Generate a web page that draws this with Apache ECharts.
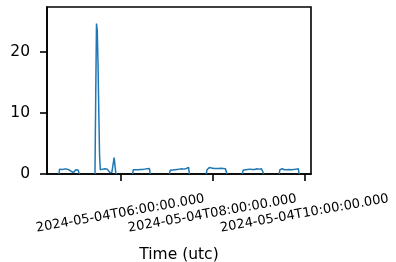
<!DOCTYPE html>
<html>
<head>
<meta charset="utf-8">
<script src="https://cdn.jsdelivr.net/npm/echarts@6/dist/echarts.min.js"></script>
<style>
  html, body { margin: 0; padding: 0; background: #fff; }
  #chart_block { width: 396px; height: 262px; }
</style>
</head>
<body>
<div id="chart_block"></div>
<script>
// segments of 1-minute samples, starting times in UTC (hour, minute)
var seg_starts = [[4, 40], [5, 27], [6, 16], [7, 4], [7, 52], [8, 39], [9, 27]];
var seg_values = [
    [0, 0.8, 0.85, 0.8, 0.75, 0.8, 0.85, 0.8, 0.75, 0.8, 0.8, 0.75, 0.8, 0.7, 0.75, 0.6, 0.45, 0.3, 0.3, 0.25, 0.3, 0.55, 0.7, 0.75, 0.7, 0.65, 0.3, 0],
    [0, 13, 24.7, 23.5, 18, 10, 3, 0.7, 0.8, 0.85, 0.8, 0.75, 0.8, 0.85, 0.8, 0.75, 0.8, 0.7, 0.75, 0.3, 0.05, 0.2, 0.25, 0.2, 0.3, 2.7, 1.5, 0.3, 0],
    [0, 0.7, 0.75, 0.7, 0.7, 0.75, 0.7, 0.7, 0.75, 0.7, 0.75, 0.7, 0.7, 0.75, 0.8, 0.75, 0.8, 0.85, 0.8, 0.85, 0.9, 0.95, 0.9, 0],
    [0, 0.6, 0.65, 0.6, 0.65, 0.7, 0.65, 0.7, 0.75, 0.7, 0.75, 0.8, 0.75, 0.8, 0.75, 0.8, 0.85, 0.8, 0.85, 0.8, 0.9, 0.85, 0.9, 1.0, 0.95, 1.1, 0],
    [0, 0.7, 0.9, 1.0, 1.05, 1.0, 0.95, 1.0, 0.9, 0.95, 0.9, 1.0, 0.95, 0.9, 0.95, 1.0, 0.9, 0.95, 0.9, 0.95, 1.0, 0.95, 0.9, 0.85, 0.9, 0.85, 0.8, 0],
    [0, 0.6, 0.7, 0.75, 0.7, 0.75, 0.7, 0.75, 0.7, 0.75, 0.8, 0.75, 0.8, 0.75, 0.8, 0.8, 0.75, 0.8, 0.8, 0.85, 0.8, 0.85, 0.8, 0.85, 0.9, 0.85, 0.95, 0.9, 0],
    [0, 0.7, 0.9, 0.95, 0.85, 0.7, 0.65, 0.7, 0.65, 0.7, 0.7, 0.65, 0.7, 0.75, 0.7, 0.75, 0.7, 0.75, 0.8, 0.75, 0.8, 0.85, 0.8, 0.85, 0.9, 0.85, 0]
];
var x_ticks = [[6, 0], [8, 0], [10, 0]];
var y_ticks = [0, 10, 20];
var x_range = [[4, 24.5], [10, 8.5]];
var y_range = [0, 27.4];

var MIN = 60 * 1000;
function utc(hm) { return Date.UTC(2024, 4, 4, hm[0], 0) + hm[1] * MIN; }

var series_data = [];
seg_values.forEach(function (vals, i) {
    var t0 = utc(seg_starts[i]);
    vals.forEach(function (v, j) { series_data.push([t0 + j * MIN, v]); });
    series_data.push([t0 + vals.length * MIN, null]);
});

var font = 'DejaVu Sans';
var option = {
    animation: false,
    grid: {
        left: 47, right: 85, top: 7, bottom: 88,
        outerBoundsMode: 'none',
        containLabel: false,
        show: true, borderColor: '#000', borderWidth: 1.6, backgroundColor: 'transparent'
    },
    xAxis: {
        type: 'value',
        min: utc(x_range[0]),
        max: utc(x_range[1]),
        name: 'Time (utc)',
        nameLocation: 'middle',
        nameGap: 73,
        nameTextStyle: { color: '#000', fontSize: 15.5, fontFamily: font },
        splitLine: { show: false },
        axisLine: { lineStyle: { color: '#000', width: 1.6 } },
        axisTick: {
            length: 7,
            lineStyle: { color: '#000', width: 1.6 },
            customValues: x_ticks.map(utc)
        },
        axisLabel: {
            customValues: x_ticks.map(utc),
            rotate: 10,
            align: 'center',
            verticalAlign: 'middle',
            margin: 39.5,
            color: '#000',
            fontSize: 13,
            fontFamily: font,
            formatter: function (v) { return new Date(v).toISOString().slice(0, 23); }
        }
    },
    yAxis: {
        type: 'value',
        min: y_range[0],
        max: y_range[1],
        splitLine: { show: false },
        axisLine: { show: true, lineStyle: { color: '#000', width: 1.6 } },
        axisTick: {
            show: true,
            length: 7,
            lineStyle: { color: '#000', width: 1.6 },
            customValues: y_ticks
        },
        axisLabel: {
            customValues: y_ticks,
            margin: 17,
            color: '#000',
            fontSize: 15.5,
            fontFamily: font
        }
    },
    series: [{
        type: 'line',
        data: series_data,
        showSymbol: false,
        connectNulls: false,
        lineStyle: { color: '#1f77b4', width: 1.5 },
        itemStyle: { color: '#1f77b4' }
    }]
};

var chart = echarts.init(document.getElementById('chart_block'));
chart.setOption(option);
</script>
</body>
</html>
